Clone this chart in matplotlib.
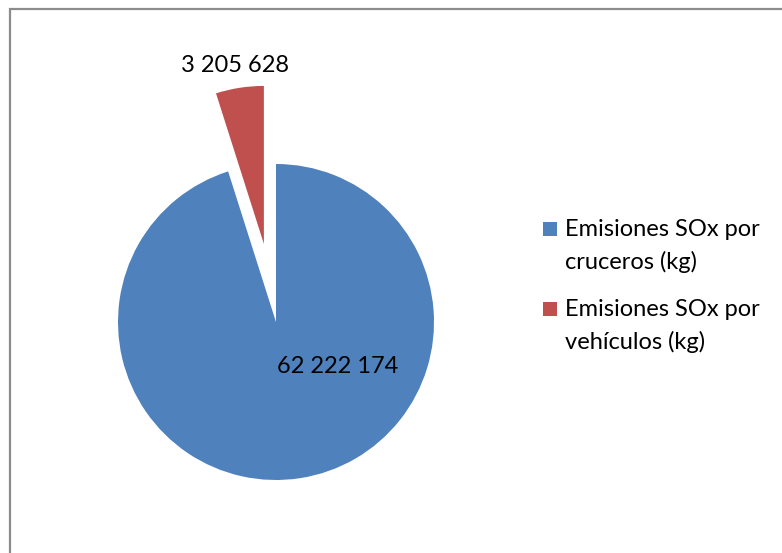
import matplotlib
matplotlib.use("Agg")
import matplotlib.pyplot as plt
from matplotlib.patches import Rectangle
import numpy as np

categories = ["Emisiones SOx por\ncruceros (kg)", "Emisiones SOx por\nvehículos (kg)"]
values = [62222174, 3205628]
colors = ["#4F81BD", "#C0504D"]
explode = [0.0, 0.5]  # fraction of radius

plt.rcParams['font.family'] = ['Lato', 'DejaVu Sans']
FS = 17

W, H = 782, 553
fig = plt.figure(figsize=(W / 100, H / 100), dpi=100)
ax = fig.add_axes([0, 0, 1, 1])

cx, cy, R = 276, H - 322, 158
wedges, _ = ax.pie(values, colors=colors, explode=[e * R for e in explode],
                   startangle=90, counterclock=False, center=(cx, cy), radius=R,
                   wedgeprops=dict(linewidth=0), frame=True)
ax.set_xlim(0, W)
ax.set_ylim(0, H)
ax.set_aspect('equal')
ax.axis('off')

def fmt(v):
    return f"{v:,}".replace(",", " ")

# red label outside along bisector
w = wedges[1]
mid = np.deg2rad((w.theta1 + w.theta2) / 2)
d = (explode[1] + 1.1) * R
ax.text(cx + d * np.cos(mid) - 2, cy + d * np.sin(mid), fmt(values[1]),
        ha='center', va='baseline', fontsize=FS, color='black')

# blue label inside
ax.text(cx + 0.39 * R, cy - 0.323 * R, fmt(values[0]),
        ha='center', va='baseline', fontsize=FS, color='black')

# chart border
ax.add_patch(Rectangle((10, -20), W + 20, H - 9 + 20, fill=False,
                       edgecolor='#8C8C8C', linewidth=1.6, clip_on=False))

# legend (marker aligned with first text line, as in the original)
leg_x, sq = 543, 14
base_first = [236, 316]
line_gap = 33
for i, (lab, col) in enumerate(zip(categories, colors)):
    b = H - base_first[i]
    ax.add_patch(Rectangle((leg_x, b), sq, sq, facecolor=col, edgecolor='none'))
    for j, line in enumerate(lab.split("\n")):
        ax.text(565, b - j * line_gap, line, ha='left', va='baseline',
                fontsize=FS, color='black')

fig.savefig("out.png", dpi=100)
